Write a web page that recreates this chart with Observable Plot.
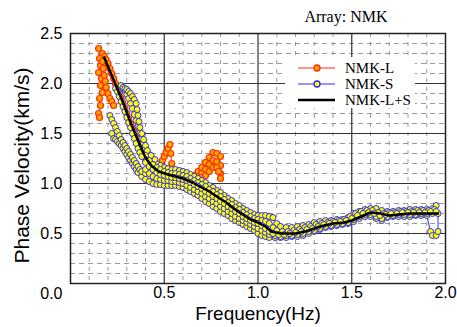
<!DOCTYPE html>
<html>
<head>
<meta charset="utf-8">
<script src="https://cdn.jsdelivr.net/npm/d3@7"></script>
<script src="https://cdn.jsdelivr.net/npm/@observablehq/plot@0.6"></script>
<style>
  html, body { margin: 0; padding: 0; background: white; overflow: hidden; }
</style>
</head>
<body>
<div id="chart"></div>
<script>
// ---------- tick / grid values ----------
const xTicks = [0.5, 1.0, 1.5, 2.0];
const yTicks = [0.5, 1.0, 1.5, 2.0, 2.5];
const majorX = [0.5, 1.0, 1.5];
const majorY = [0.5, 1.0, 1.5, 2.0];
const minorX = [0.1, 0.2, 0.3, 0.4, 0.6, 0.7, 0.8, 0.9, 1.1, 1.2, 1.3, 1.4, 1.6, 1.7, 1.8, 1.9];
const minorY = [0.1, 0.2, 0.3, 0.4, 0.6, 0.7, 0.8, 0.9, 1.1, 1.2, 1.3, 1.4, 1.6, 1.7, 1.8, 1.9, 2.1, 2.2, 2.3, 2.4];

// ---------- texts ----------
const seriesNames = ["NMK-L", "NMK-S", "NMK-L+S"];
const titleText = "Array: NMK";
const xLabel = "Frequency(Hz)";
const yLabel = "Phase Velocity(km/s)";

// ---------- NMK-L (red) curves: [frequency Hz, phase velocity km/s] ----------
const nmkL1 = [[0.17,2.30],[0.18,2.27],[0.19,2.24],[0.20,2.20],[0.21,2.15],[0.22,2.10],[0.23,2.05],[0.24,2.00],[0.25,1.95],[0.26,1.90],[0.27,1.85],[0.28,1.80],[0.29,1.75],[0.30,1.70],[0.31,1.65],[0.32,1.60],[0.33,1.56],[0.34,1.51],[0.35,1.46],[0.36,1.41],[0.37,1.36],[0.38,1.31],[0.39,1.27],[0.40,1.24],[0.42,1.20],[0.44,1.17],[0.46,1.15]];
const nmkL2 = [[0.150,2.35],[0.155,2.25],[0.160,2.18],[0.150,2.11],[0.165,2.05],[0.160,1.98],[0.170,1.91],[0.155,1.85],[0.160,1.78],[0.150,1.70],[0.155,1.66]];
const nmkL3 = [[0.17,2.22],[0.175,2.15],[0.18,2.08],[0.185,2.02],[0.19,1.96],[0.20,1.90],[0.21,1.85],[0.22,1.82],[0.23,1.78]];
const nmkL4 = [[0.45,1.12],[0.47,1.15],[0.48,1.19],[0.49,1.23],[0.50,1.27],[0.51,1.31],[0.52,1.35],[0.53,1.39],[0.535,1.30],[0.54,1.20],[0.545,1.12]];
const nmkL5 = [[0.66,1.08],[0.68,1.12],[0.70,1.16],[0.72,1.21],[0.74,1.26],[0.76,1.31],[0.78,1.30],[0.80,1.27]];
const nmkL6 = [[0.68,1.07],[0.70,1.10],[0.72,1.14],[0.74,1.19],[0.76,1.23],[0.78,1.22],[0.80,1.18],[0.80,1.10],[0.80,1.05]];
const nmkL7 = [[0.70,1.06],[0.72,1.08],[0.74,1.12],[0.76,1.16],[0.78,1.16],[0.79,1.12]];

// ---------- NMK-S (blue) curves ----------
const nmkS1 = [[0.27,1.98],[0.28,1.96],[0.29,1.93],[0.30,1.89],[0.31,1.85],[0.32,1.80],[0.33,1.75],[0.34,1.69],[0.35,1.63],[0.36,1.57],[0.37,1.51],[0.38,1.45],[0.39,1.40],[0.40,1.35],[0.42,1.29],[0.44,1.24],[0.46,1.20],[0.48,1.18],[0.50,1.16],[0.52,1.15],[0.54,1.14],[0.56,1.14],[0.58,1.13],[0.60,1.12],[0.62,1.11],[0.64,1.09],[0.66,1.07],[0.68,1.05],[0.70,1.03],[0.72,1.01],[0.74,0.98],[0.76,0.96],[0.78,0.93],[0.80,0.91],[0.82,0.88],[0.84,0.85],[0.86,0.83],[0.88,0.80],[0.90,0.78],[0.92,0.75],[0.94,0.73],[0.96,0.71],[0.98,0.69],[1.00,0.68],[1.02,0.68],[1.04,0.68],[1.06,0.67],[1.08,0.66],[1.10,0.60],[1.12,0.57],[1.15,0.56],[1.18,0.56],[1.21,0.57],[1.24,0.58],[1.27,0.59],[1.30,0.61],[1.33,0.62],[1.36,0.63],[1.39,0.63],[1.42,0.64],[1.45,0.64],[1.48,0.66],[1.51,0.70],[1.54,0.72],[1.57,0.74],[1.60,0.75],[1.63,0.75],[1.66,0.73],[1.69,0.72],[1.72,0.72],[1.75,0.73],[1.78,0.73],[1.81,0.74],[1.84,0.74],[1.87,0.74],[1.90,0.74],[1.93,0.75],[1.95,0.78]];
const nmkS2 = [[0.22,1.50],[0.23,1.45],[0.24,1.44],[0.25,1.42],[0.26,1.40],[0.27,1.38],[0.28,1.35],[0.29,1.32],[0.30,1.29],[0.31,1.26],[0.32,1.23],[0.33,1.20],[0.34,1.17],[0.35,1.14],[0.36,1.11],[0.38,1.07],[0.40,1.04],[0.42,1.02],[0.44,1.00],[0.46,0.99],[0.48,0.99],[0.50,0.98],[0.52,0.98],[0.54,0.98],[0.56,0.98],[0.58,0.97],[0.60,0.96],[0.62,0.94],[0.64,0.92],[0.66,0.90],[0.68,0.88],[0.70,0.85],[0.72,0.82],[0.74,0.80],[0.76,0.77],[0.78,0.75],[0.80,0.72],[0.82,0.70],[0.84,0.68],[0.86,0.65],[0.88,0.63],[0.90,0.61],[0.92,0.59],[0.94,0.57],[0.96,0.55],[0.98,0.53],[1.00,0.50],[1.02,0.48],[1.04,0.47],[1.06,0.46],[1.09,0.46],[1.12,0.46],[1.15,0.46],[1.18,0.47],[1.21,0.47],[1.24,0.48],[1.27,0.50],[1.30,0.52],[1.33,0.54],[1.36,0.56],[1.39,0.57],[1.42,0.58],[1.45,0.59],[1.48,0.60],[1.51,0.62],[1.54,0.65],[1.57,0.67],[1.60,0.67],[1.63,0.65],[1.66,0.63],[1.69,0.66],[1.72,0.67],[1.75,0.67],[1.78,0.67],[1.81,0.67],[1.84,0.68],[1.87,0.68],[1.90,0.68],[1.92,0.52],[1.93,0.48],[1.95,0.48],[1.96,0.52],[1.96,0.70]];
const nmkS3 = [[0.24,1.95],[0.25,1.92],[0.26,1.87],[0.27,1.82],[0.28,1.77],[0.29,1.72],[0.30,1.66],[0.31,1.61],[0.32,1.56],[0.33,1.50],[0.34,1.45],[0.35,1.40],[0.36,1.35],[0.37,1.31],[0.38,1.27],[0.40,1.21],[0.42,1.17],[0.44,1.14],[0.46,1.11],[0.48,1.09],[0.50,1.08],[0.52,1.07],[0.54,1.06],[0.56,1.06],[0.58,1.05],[0.60,1.04],[0.62,1.03],[0.64,1.01],[0.66,0.99],[0.68,0.97],[0.70,0.95],[0.72,0.92],[0.74,0.90],[0.76,0.87],[0.78,0.85],[0.80,0.82],[0.82,0.80],[0.84,0.77],[0.86,0.75],[0.88,0.72],[0.90,0.70],[0.92,0.67],[0.94,0.65],[0.96,0.63],[0.98,0.61],[1.00,0.60],[1.02,0.58],[1.04,0.55],[1.06,0.52],[1.08,0.50],[1.11,0.49],[1.14,0.49],[1.17,0.50],[1.20,0.51],[1.23,0.52],[1.26,0.54],[1.29,0.55],[1.32,0.57],[1.35,0.59],[1.38,0.60],[1.41,0.61],[1.44,0.62],[1.47,0.63],[1.50,0.65],[1.53,0.68],[1.56,0.70],[1.59,0.71],[1.62,0.70],[1.65,0.68],[1.68,0.69],[1.71,0.70],[1.74,0.70],[1.77,0.71],[1.80,0.71],[1.83,0.71],[1.86,0.71],[1.89,0.71],[1.92,0.72],[1.95,0.72]];
const nmkS4 = [[0.21,1.68],[0.22,1.64],[0.23,1.60],[0.24,1.56],[0.25,1.52],[0.26,1.48],[0.27,1.44],[0.28,1.41],[0.29,1.38],[0.30,1.35],[0.31,1.32],[0.32,1.29],[0.33,1.26],[0.34,1.23],[0.35,1.20],[0.36,1.17],[0.37,1.14],[0.38,1.12],[0.40,1.10]];
const nmkS5 = [[0.29,1.95],[0.30,1.94],[0.31,1.92],[0.32,1.90],[0.33,1.87],[0.34,1.84],[0.35,1.80],[0.355,1.74],[0.36,1.68],[0.365,1.62],[0.37,1.56],[0.38,1.50],[0.39,1.44],[0.40,1.38],[0.41,1.33],[0.43,1.28],[0.45,1.24]];
const nmkS6 = [[0.40,1.28],[0.42,1.23],[0.44,1.19],[0.46,1.16],[0.48,1.14],[0.50,1.12],[0.52,1.11],[0.54,1.10],[0.56,1.10],[0.58,1.09],[0.60,1.08],[0.62,1.07],[0.64,1.05],[0.66,1.03],[0.68,1.01],[0.70,0.99],[0.72,0.97],[0.74,0.94],[0.76,0.92],[0.78,0.89],[0.80,0.87],[0.82,0.84],[0.84,0.81],[0.86,0.79],[0.88,0.76],[0.90,0.74],[0.92,0.71],[0.94,0.69],[0.96,0.67],[0.98,0.65],[1.00,0.64],[1.02,0.63],[1.04,0.62],[1.06,0.60],[1.08,0.56],[1.10,0.53],[1.13,0.52],[1.16,0.52],[1.19,0.53],[1.22,0.54],[1.25,0.56],[1.28,0.57],[1.31,0.59],[1.34,0.60],[1.37,0.61],[1.40,0.62],[1.43,0.63],[1.46,0.64],[1.49,0.67],[1.52,0.70],[1.55,0.72],[1.58,0.73],[1.61,0.73],[1.64,0.71],[1.67,0.70],[1.70,0.71],[1.73,0.71],[1.76,0.72],[1.79,0.72],[1.82,0.72],[1.85,0.73],[1.88,0.73],[1.91,0.73],[1.94,0.74]];
const nmkS7 = [[0.40,1.14],[0.42,1.10],[0.44,1.07],[0.46,1.05],[0.48,1.04],[0.50,1.03],[0.52,1.03],[0.54,1.02],[0.56,1.02],[0.58,1.01],[0.60,1.00],[0.62,0.98],[0.64,0.96],[0.66,0.94],[0.68,0.92],[0.70,0.90],[0.72,0.87],[0.74,0.85],[0.76,0.82],[0.78,0.80],[0.80,0.77],[0.82,0.75],[0.84,0.72],[0.86,0.70],[0.88,0.67],[0.90,0.65],[0.92,0.63],[0.94,0.61],[0.96,0.59],[0.98,0.57],[1.00,0.55],[1.02,0.53],[1.04,0.51],[1.06,0.49],[1.09,0.48],[1.12,0.47],[1.15,0.48],[1.18,0.48],[1.21,0.49],[1.24,0.50],[1.27,0.52],[1.30,0.53],[1.33,0.55],[1.36,0.57],[1.39,0.58],[1.42,0.59],[1.45,0.60],[1.48,0.61],[1.51,0.64],[1.54,0.67],[1.57,0.69],[1.60,0.69],[1.63,0.67],[1.66,0.65],[1.69,0.67],[1.72,0.68],[1.75,0.69],[1.78,0.69],[1.81,0.69],[1.84,0.69],[1.87,0.70],[1.90,0.70],[1.93,0.70]];

// ---------- NMK-L+S (black) curve ----------
const nmkLS = [[0.18,2.26],[0.20,2.17],[0.22,2.08],[0.24,1.99],[0.26,1.90],[0.28,1.81],[0.30,1.71],[0.32,1.61],[0.34,1.52],[0.36,1.43],[0.38,1.34],[0.40,1.26],[0.43,1.18],[0.47,1.12],[0.52,1.09],[0.56,1.07],[0.60,1.05],[0.65,1.01],[0.69,0.97],[0.74,0.92],[0.78,0.87],[0.83,0.81],[0.87,0.75],[0.91,0.70],[0.96,0.64],[1.00,0.61],[1.04,0.57],[1.07,0.52],[1.12,0.50],[1.20,0.50],[1.27,0.53],[1.33,0.57],[1.40,0.60],[1.46,0.61],[1.50,0.63],[1.55,0.67],[1.60,0.71],[1.65,0.70],[1.70,0.68],[1.75,0.69],[1.81,0.70],[1.88,0.70],[1.96,0.70]];

const redCurves = [nmkL1, nmkL2, nmkL3, nmkL4, nmkL5, nmkL6, nmkL7];
const blueCurves = [nmkS1, nmkS2, nmkS4, nmkS5, nmkS6, nmkS7, nmkS3];

// ---------- styles ----------
const RED_LINE = "#ff2a2a", RED_DOT_FILL = "#ffa800", RED_DOT_STROKE = "#ff2a00";
const BLUE_LINE = "#2a2aff", BLUE_DOT_FILL = "#ffff00", BLUE_DOT_STROKE = "#2a2aff";
const SERIF = "'Liberation Serif', 'Times New Roman', serif";

const fx = d => d[0], fy = d => d[1];

const redMarks = redCurves.flatMap(c => [
  Plot.line(c, {x: fx, y: fy, stroke: RED_LINE, strokeWidth: 1}),
  Plot.dot(c, {x: fx, y: fy, r: 3, fill: RED_DOT_FILL, stroke: RED_DOT_STROKE, strokeWidth: 1.2})
]);
const blueMarks = blueCurves.flatMap(c => [
  Plot.line(c, {x: fx, y: fy, stroke: BLUE_LINE, strokeWidth: 1}),
  Plot.dot(c, {x: fx, y: fy, r: 3, fill: BLUE_DOT_FILL, stroke: BLUE_DOT_STROKE, strokeWidth: 1})
]);

const chart = Plot.plot({
  width: 457,
  height: 327,
  marginLeft: 70,
  marginRight: 12,
  marginTop: 33,
  marginBottom: 44,
  style: {fontFamily: "'Liberation Sans', Arial, sans-serif", fontSize: "16px", background: "white", color: "black", overflow: "visible"},
  x: {domain: [0, 2], ticks: xTicks, tickSize: 0, tickPadding: 3, tickFormat: d => d.toFixed(1), label: null},
  y: {domain: [0, 2.5], ticks: yTicks, tickSize: 0, tickPadding: 8, tickFormat: d => d.toFixed(1), label: null},
  marks: [
    Plot.ruleX(minorX, {stroke: "#808080", strokeWidth: 0.8, strokeDasharray: "4,5"}),
    Plot.ruleY(minorY, {stroke: "#808080", strokeWidth: 0.8, strokeDasharray: "5,4"}),
    Plot.ruleX(majorX, {stroke: "#333", strokeWidth: 1.2}),
    Plot.ruleY(majorY, {stroke: "#333", strokeWidth: 1.2}),
    ...redMarks,
    ...blueMarks,
    Plot.line(nmkLS, {x: fx, y: fy, stroke: "black", strokeWidth: 2.5}),
    Plot.frame({stroke: "#222", strokeWidth: 1.5}),
    Plot.text(["0.0"], {frameAnchor: "bottom-left", dx: -8, dy: 10, textAnchor: "end", lineAnchor: "middle", fontSize: 16}),
    Plot.text([xLabel], {frameAnchor: "bottom", dy: 30, textAnchor: "middle", lineAnchor: "middle", fontSize: 19}),
    Plot.text([yLabel], {frameAnchor: "left", dx: -48, dy: 7, rotate: -90, textAnchor: "middle", lineAnchor: "middle", fontSize: 21}),
    Plot.text([titleText], {frameAnchor: "top-right", dx: -58, dy: -17, textAnchor: "end", lineAnchor: "middle", fontSize: 16, fontFamily: SERIF})
  ]
});

// ---------- legend box (inside the plot, top right) ----------
const svg = d3.select(chart);
const lg = svg.append("g").attr("class", "legend").attr("text-anchor", "start");
lg.append("rect").attr("x", 285).attr("y", 57).attr("width", 130).attr("height", 51)
  .attr("fill", "white").attr("stroke", "none");
const legendStyles = [
  {line: RED_LINE, width: 1.2, fill: RED_DOT_FILL, stroke: RED_DOT_STROKE},
  {line: BLUE_LINE, width: 1.2, fill: BLUE_DOT_FILL, stroke: BLUE_DOT_STROKE},
  {line: "black", width: 2.5, fill: null, stroke: null}
];
seriesNames.forEach((name, i) => {
  const y = 68 + i * 16;
  const s = legendStyles[i];
  lg.append("line").attr("x1", 298).attr("x2", 335).attr("y1", y).attr("y2", y)
    .attr("stroke", s.line).attr("stroke-width", s.width);
  if (s.fill) {
    lg.append("circle").attr("cx", 317).attr("cy", y).attr("r", 3)
      .attr("fill", s.fill).attr("stroke", s.stroke).attr("stroke-width", 1.3);
  }
  lg.append("text").attr("x", 345).attr("y", y).attr("dy", "0.35em")
    .attr("text-anchor", "start")
    .attr("font-family", SERIF).attr("font-size", 15).attr("fill", "black").text(name);
});

document.getElementById("chart").appendChild(chart);
</script>
</body>
</html>
